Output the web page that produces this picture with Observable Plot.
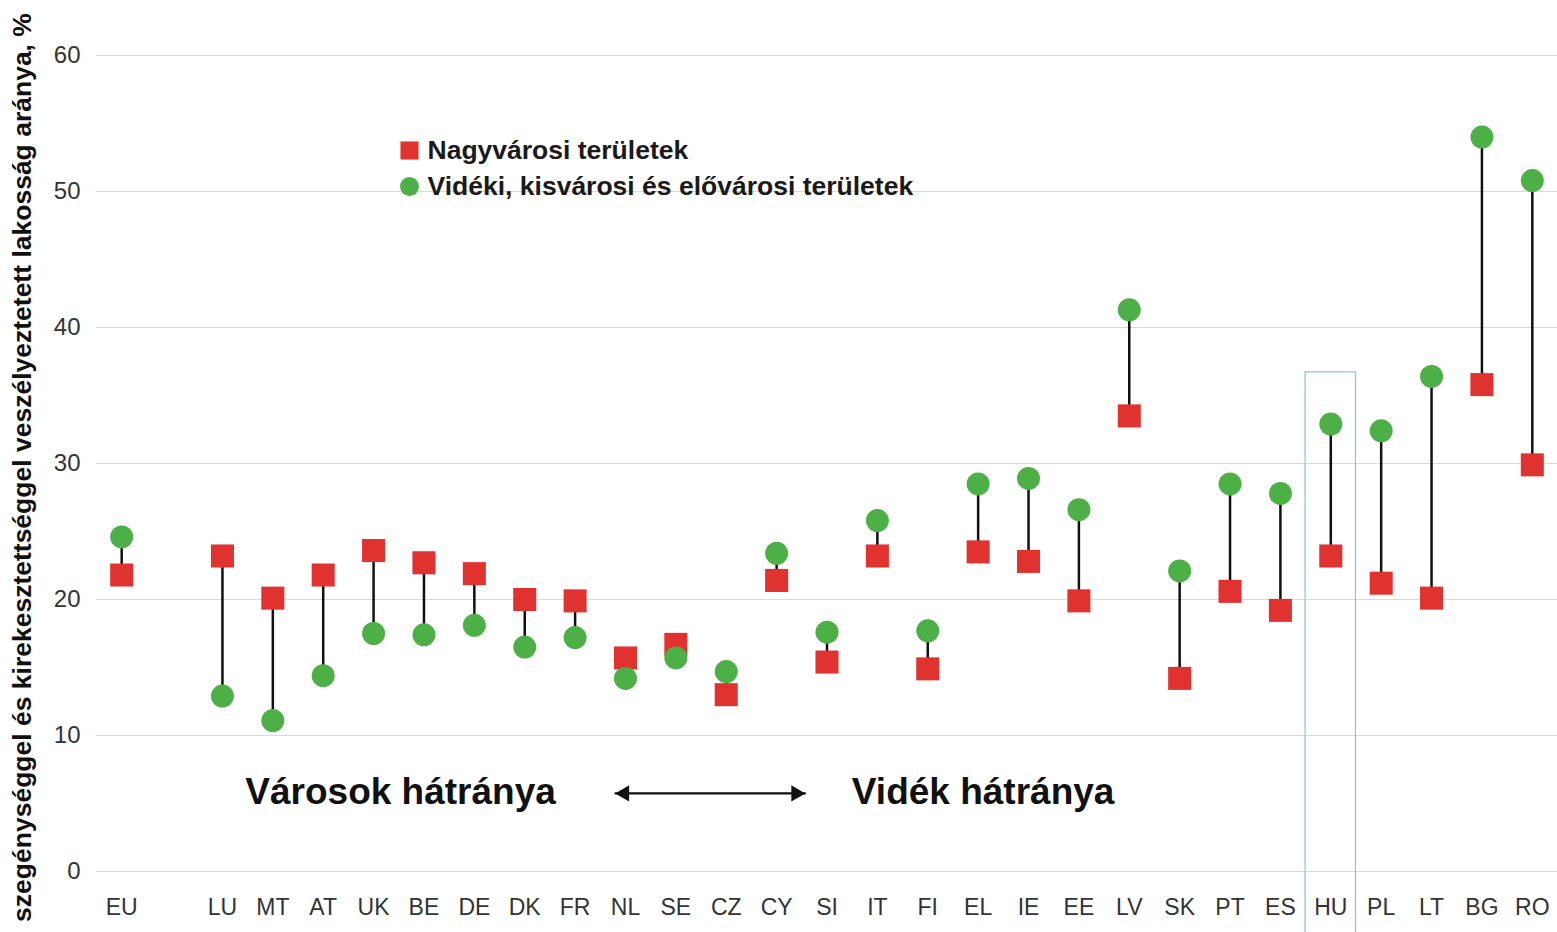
<!DOCTYPE html>
<html><head><meta charset="utf-8">
<script src="https://cdn.jsdelivr.net/npm/d3@7"></script>
<script src="https://cdn.jsdelivr.net/npm/@observablehq/plot@0.6"></script>
<style>
body{margin:0;background:#fff;}
#chart svg{display:block;}
</style></head><body><div id="chart"></div>
<script>
// ---- data ----
const countries = ["EU","LU","MT","AT","UK","BE","DE","DK","FR","NL","SE","CZ","CY","SI","IT","FI","EL","IE","EE","LV","SK","PT","ES","HU","PL","LT","BG","RO"];
const cityValues  = [21.8,23.2,20.1,21.8,23.6,22.7,21.9,20.0,19.9,15.7,16.7,13.0,21.4,15.4,23.2,14.9,23.5,22.8,19.9,33.5,14.2,20.6,19.2,23.2,21.2,20.1,35.8,29.9];
const ruralValues = [24.6,12.9,11.1,14.4,17.5,17.4,18.1,16.5,17.2,14.2,15.7,14.7,23.4,17.6,25.8,17.7,28.5,28.9,26.6,41.3,22.1,28.5,27.8,32.9,32.4,36.4,54.0,50.8];
const seriesNames = ["Nagyvárosi területek","Vidéki, kisvárosi és elővárosi területek"];
const seriesColors = ["#e0322f","#4cb046"];
const yTicks = [0,10,20,30,40,50,60];
const yLabel = "szegénységgel és kirekesztettséggel veszélyeztetett lakosság aránya, %";
const annotationTexts = ["Városok hátránya","Vidék hátránya"];
const highlighted = ["HU"];
const gap = " ";

// ---- derived ----
const xDomain = [countries[0], gap, ...countries.slice(1)];
const rows = countries.map((c,i)=>({country:c, city:cityValues[i], rural:ruralValues[i]}));
const font = "'Liberation Sans', Arial, sans-serif";
const arrowY = 5.74;

const chart = Plot.plot({
  width:1557, height:932,
  marginLeft:96, marginRight:0, marginTop:55, marginBottom:61,
  style:{fontFamily:font, background:"#fff", overflow:"visible"},
  x:{type:"band", domain:xDomain, padding:0, round:false},
  y:{domain:[0,60]},
  marks:[
    Plot.gridY(yTicks, {stroke:"#d9d9d9", strokeOpacity:1, strokeWidth:1}),
    Plot.axisY(yTicks, {tickSize:0, tickPadding:16, fontSize:24, color:"#333", label:null}),
    Plot.axisX({tickSize:0, tickPadding:27, fontSize:23, color:"#333", label:null, tickFormat:d=>d===gap?"":d}),
    Plot.barY(highlighted, {x:d=>d, y1:-6, y2:36.7, fill:"none", stroke:"#8cc6e4", strokeWidth:1.3}),
    Plot.ruleX(rows, {x:"country", y1:"city", y2:"rural", stroke:"#111", strokeWidth:2.5}),
    Plot.dot(rows, {x:"country", y:"city", symbol:"square", r:13, fill:seriesColors[0]}),
    Plot.dot(rows, {x:"country", y:"rural", symbol:"circle", r:11.5, fill:seriesColors[1]}),
    // legend
    Plot.dot([seriesNames[0]], {frameAnchor:"top-left", dx:313, dy:95, symbol:"square", r:10.2, fill:seriesColors[0]}),
    Plot.dot([seriesNames[1]], {frameAnchor:"top-left", dx:313, dy:131, symbol:"circle", r:9.5, fill:seriesColors[1]}),
    Plot.text([seriesNames[0]], {frameAnchor:"top-left", dx:331, dy:95, text:d=>d, textAnchor:"start", lineAnchor:"middle", fontSize:26.5, fontWeight:"bold", fill:"#1a1a1a"}),
    Plot.text([seriesNames[1]], {frameAnchor:"top-left", dx:331, dy:131, text:d=>d, textAnchor:"start", lineAnchor:"middle", fontSize:26.5, fontWeight:"bold", fill:"#1a1a1a"}),
    // y label
    Plot.text([yLabel], {frameAnchor:"left", rotate:-90, dx:-74, dy:4, text:d=>d, textAnchor:"middle", fontSize:26.5, fontWeight:"bold", fill:"#111"}),
    // annotations
    Plot.text([annotationTexts[0]], {x:()=>"UK", y:()=>5.85, dx:27, text:d=>d, fontSize:37, fontWeight:"bold", fill:"#111"}),
    Plot.text([annotationTexts[1]], {x:()=>"EL", y:()=>5.85, dx:5, text:d=>d, fontSize:37, fontWeight:"bold", fill:"#111"}),
    Plot.arrow([0], {x1:()=>"NL", x2:()=>"SI", y1:()=>arrowY, y2:()=>arrowY, dx:-10, insetEnd:12, headLength:0, strokeWidth:2.2, stroke:"#111"}),
    Plot.dot([0], {x:()=>"SI", y:()=>arrowY, dx:-31, symbol:"triangle", r:6, rotate:90, fill:"#111"}),
    Plot.dot([0], {x:()=>"NL", y:()=>arrowY, dx:-1, symbol:"triangle", r:6, rotate:-90, fill:"#111"})
  ]
});
document.getElementById("chart").appendChild(chart);
</script></body></html>
